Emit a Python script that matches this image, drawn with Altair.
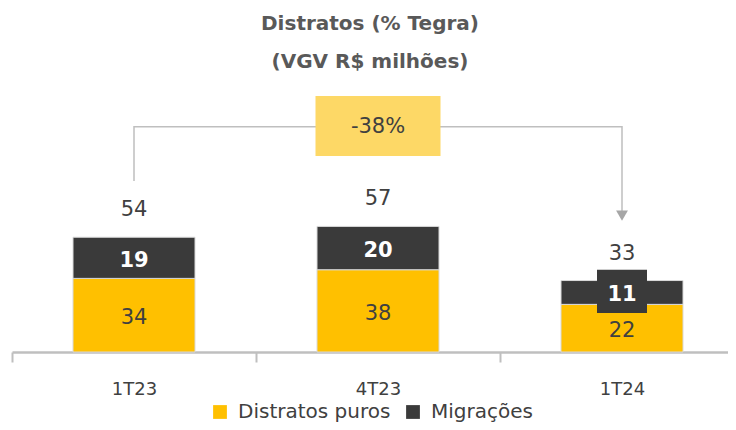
import altair as alt
import pandas as pd

categories = ["1T23", "4T23", "1T24"]
distratos_puros = [34, 38, 22]
migracoes = [19, 20, 11]
totals = [54, 57, 33]
series_names = ["Distratos puros", "Migrações"]
series_colors = ["#FFC000", "#3A3A3A"]

# bracket annotation (variation 1T23 -> 1T24)
bracket_cat = ["1T23", "1T23", "1T24", "1T24"]
bracket_val = [79, 104, 104, 63]
change_label = "-38%"
change_box = [90.5, 118.2]
change_y = 104
arrow_val = 63

# dark label box for 1T24
label_box_cat = ["1T24"]
label_box_lo = [18]
label_box_hi = [38]

FONT = "DejaVu Sans"
TXT = "#404040"

rows = []
for i, c in enumerate(categories):
    rows.append({"cat": c, "serie": series_names[0], "v": distratos_puros[i], "ord": 0,
                 "mid": distratos_puros[i] / 2})
    rows.append({"cat": c, "serie": series_names[1], "v": migracoes[i], "ord": 1,
                 "mid": distratos_puros[i] + migracoes[i] / 2})
df = pd.DataFrame(rows)
df_tot = pd.DataFrame({"cat": categories, "tot": totals,
                       "top": [a + b for a, b in zip(distratos_puros, migracoes)]})
df_br = pd.DataFrame({"cat": bracket_cat, "v": bracket_val, "i": list(range(len(bracket_cat)))})
df_box = pd.DataFrame({"cat": ["4T23"], "lo": [change_box[0]], "hi": [change_box[1]],
                       "y": [change_y], "t": [change_label]})
df_arrow = pd.DataFrame({"cat": ["1T24"], "v": [arrow_val]})
df_lb = pd.DataFrame({"cat": label_box_cat, "lo": label_box_lo, "hi": label_box_hi})

yscale = alt.Scale(domain=[0, 121], nice=False, zero=True)
xscale = alt.Scale(domain=categories, range=[0, 732], paddingInner=0, paddingOuter=0)

X = alt.X("cat:N", scale=xscale, sort=categories, title=None,
          axis=alt.Axis(labelAngle=0, labelFontSize=18, labelColor=TXT, labelFont=FONT,
                        domainColor="#BFBFBF", domainWidth=2.5, tickColor="#BFBFBF",
                        tickWidth=2, tickSize=10, tickBand="extent", labelPadding=18,
                        grid=False))

bracket = alt.Chart(df_br).mark_line(color="#BFBFBF", strokeWidth=1.5).encode(
    x=X, y=alt.Y("v:Q", scale=yscale, axis=None), order="i:Q")

arrow = alt.Chart(df_arrow).mark_point(shape="triangle-down", filled=True, size=140,
                                       color="#A6A6A6", opacity=1).encode(
    x=X, y=alt.Y("v:Q", scale=yscale, axis=None))

box = alt.Chart(df_box).mark_bar(width=125, color="#FDD866").encode(
    x=X, y=alt.Y("lo:Q", scale=yscale, axis=None), y2="hi:Q")

box_text = alt.Chart(df_box).mark_text(fontSize=21, color=TXT, font=FONT,
                                       baseline="middle").encode(
    x=X, y=alt.Y("y:Q", scale=yscale, axis=None), text="t:N")

bars = alt.Chart(df).mark_bar(stroke="#D9D9D9", strokeWidth=1,
                              width=alt.RelativeBandSize(0.5)).encode(
    x=X,
    y=alt.Y("v:Q", scale=yscale, axis=None, stack="zero"),
    color=alt.Color("serie:N", scale=alt.Scale(domain=series_names, range=series_colors),
                    title=None,
                    legend=alt.Legend(orient="none", legendX=198, legendY=312,
                                      direction="horizontal", symbolType="square",
                                      symbolSize=190, symbolStrokeWidth=0,
                                      labelFontSize=20, labelColor=TXT, labelFont=FONT,
                                      columnPadding=12, symbolOffset=0, labelOffset=8)),
    order=alt.Order("ord:Q", sort="ascending"),
)

lbox = alt.Chart(df_lb).mark_bar(width=50, color="#3A3A3A").encode(
    x=X, y=alt.Y("lo:Q", scale=yscale, axis=None), y2="hi:Q")

seg_text_y = alt.Chart(df).transform_filter(alt.datum.ord == 0).mark_text(
    fontSize=21, font=FONT, baseline="middle", dy=3, color=TXT).encode(
    x=X, y=alt.Y("mid:Q", scale=yscale, axis=None), text="v:Q")

seg_text_d = alt.Chart(df).transform_filter(alt.datum.ord == 1).mark_text(
    fontSize=21, font=FONT, baseline="middle", dy=3, color="#FFFFFF", fontWeight="bold").encode(
    x=X, y=alt.Y("mid:Q", scale=yscale, axis=None), text="v:Q")

tot_text = alt.Chart(df_tot).mark_text(fontSize=21, font=FONT, color=TXT,
                                       baseline="middle", dy=-27).encode(
    x=X, y=alt.Y("top:Q", scale=yscale, axis=None), text="tot:Q")

chart = alt.layer(bracket, arrow, box, box_text, bars, lbox, seg_text_y, seg_text_d,
                  tot_text).properties(
    width=716, height=262,
    autosize=alt.AutoSizeParams(type="none"),
    padding={"left": 4, "top": 82, "right": 0, "bottom": 70},
    title=alt.TitleParams(["Distratos (% Tegra)", "(VGV R$ milhões)"], anchor="middle",
                          fontSize=20, fontWeight="bold", color="#595959", font=FONT,
                          lineHeight=38, offset=18, frame="group"),
).configure_view(stroke=None).configure_legend(padding=0)

chart.save("out.html", embed_options={"renderer": "svg", "actions": False})
